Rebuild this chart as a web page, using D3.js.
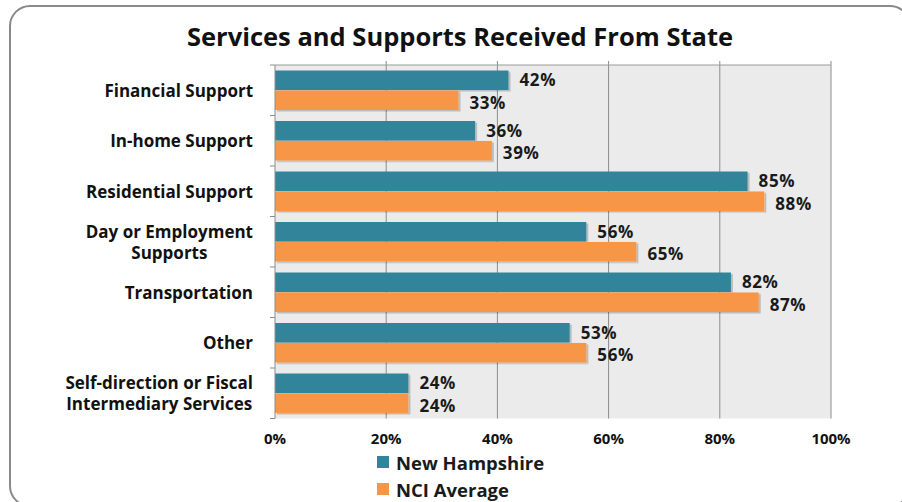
<!DOCTYPE html>
<html>
<head>
<meta charset="utf-8">
<script src="https://cdn.jsdelivr.net/npm/d3@7/dist/d3.min.js"></script>
<style>
html,body{margin:0;padding:0;background:#fff;}
svg{display:block;font-family:"Open Sans",sans-serif;}
</style>
</head>
<body>
<svg id="chart" width="902" height="502"></svg>
<script>
const categories = [
  ["Financial Support"],
  ["In-home Support"],
  ["Residential Support"],
  ["Day or Employment", "Supports"],
  ["Transportation"],
  ["Other"],
  ["Self-direction or Fiscal", "Intermediary Services"]
];
const newHampshire = [42, 36, 85, 56, 82, 53, 24];
const nciAverage   = [33, 39, 88, 65, 87, 56, 24];
const seriesNames  = ["New Hampshire", "NCI Average"];
const seriesColors = ["#31849B", "#F79646"];
const xTicks = [0, 20, 40, 60, 80, 100];
const title = "Services and Supports Received From State";

const svg = d3.select("#chart");
const defs = svg.append("defs");
const f = defs.append("filter").attr("id","sh").attr("x","-5%").attr("y","-20%").attr("width","115%").attr("height","160%");
f.append("feDropShadow").attr("dx",2).attr("dy",1.5).attr("stdDeviation",0.7).attr("flood-color","#000").attr("flood-opacity",0.2);

// outer frame
svg.append("rect").attr("x",10).attr("y",6).attr("width",900).attr("height",500)
  .attr("rx",20).attr("fill","#fff").attr("stroke","#8a8a8a").attr("stroke-width",2);

const L = 275, R = 831, T = 65, B = 418.5;
const x = d3.scaleLinear().domain([0,100]).range([L,R]);
const idx = d3.range(categories.length);
const y = d3.scaleBand().domain(idx).range([T,B]).paddingInner(0.218).paddingOuter(0.109);
const ySub = d3.scaleBand().domain([0,1]).range([0,y.bandwidth()]).paddingInner(0.02);

// title
svg.append("text").attr("x",460).attr("y",36).attr("text-anchor","middle").attr("dominant-baseline","central")
  .attr("font-size",25.5).attr("font-weight",700).attr("fill","#111").text(title);

// plot background
svg.append("rect").attr("x",L).attr("y",T).attr("width",R-L).attr("height",B-T).attr("fill","#ebebeb");

// gridlines
svg.append("g").selectAll("line").data(xTicks.slice(1)).join("line")
  .attr("x1",d=>x(d)).attr("x2",d=>x(d)).attr("y1",T-4).attr("y2",B)
  .attr("stroke","#8c8c8c").attr("stroke-width",1);
svg.append("line").attr("x1",L).attr("x2",R).attr("y1",T).attr("y2",T).attr("stroke","#9a9a9a");

// bars
const series = [newHampshire, nciAverage];
const gBars = svg.append("g").attr("filter","url(#sh)");
series.forEach((vals, s) => {
  gBars.selectAll(".b"+s).data(idx).join("rect")
    .attr("x", x(0)).attr("y", i => y(i) + ySub(s))
    .attr("width", i => x(vals[i]) - x(0)).attr("height", ySub.bandwidth())
    .attr("fill", seriesColors[s]);
});
// value labels
series.forEach((vals, s) => {
  svg.append("g").selectAll("text").data(idx).join("text")
    .attr("x", i => x(vals[i]) + 11).attr("y", i => y(i) + ySub(s) + ySub.bandwidth()/2 + (s === 0 ? -0.5 : 2))
    .attr("dominant-baseline","central")
    .attr("font-size",17).attr("letter-spacing",0.6).attr("font-weight",700).attr("fill","#1a1a1a")
    .text(i => vals[i] + "%");
});

// left axis
svg.append("line").attr("x1",L).attr("x2",L).attr("y1",T).attr("y2",B).attr("stroke","#8c8c8c");
const bounds = idx.map(i => y(i) - y.step()*y.paddingInner()/2).concat([B]);
bounds[0] = T;
svg.append("g").selectAll("line").data(bounds).join("line")
  .attr("x1",L-5).attr("x2",L).attr("y1",d=>d).attr("y2",d=>d).attr("stroke","#8c8c8c");

// category labels
const catG = svg.append("g");
idx.forEach(i => {
  const lines = categories[i];
  const cy = y(i) + y.bandwidth()/2;
  const lh = 21;
  const t = catG.append("text").attr("font-size",17).attr("font-weight",700).attr("fill","#111")
    .attr("text-anchor","middle");
  lines.forEach((ln, k) => {
    t.append("tspan").attr("x",0).attr("y", cy + (k - (lines.length-1)/2)*lh).attr("dominant-baseline","central").text(ln);
  });
  const w = t.node().getBBox().width;
  t.attr("transform", `translate(${253 - w/2},0)`);
});

// x tick labels
svg.append("g").selectAll("text").data(xTicks).join("text")
  .attr("x",d=>x(d)).attr("y",438).attr("dominant-baseline","central").attr("text-anchor","middle")
  .attr("font-size",15).attr("font-weight",700).attr("fill","#111").text(d=>d+"%");

// legend
const lg = svg.append("g");
seriesNames.forEach((n, s) => {
  const ly = 462 + s*27;
  lg.append("rect").attr("x",377).attr("y",ly-6).attr("width",12).attr("height",12).attr("fill",seriesColors[s]);
  lg.append("text").attr("x",396).attr("y",ly).attr("dominant-baseline","central")
    .attr("font-size",18.5).attr("font-weight",700).attr("fill","#1a1a1a").text(n);
});
</script>
</body>
</html>
